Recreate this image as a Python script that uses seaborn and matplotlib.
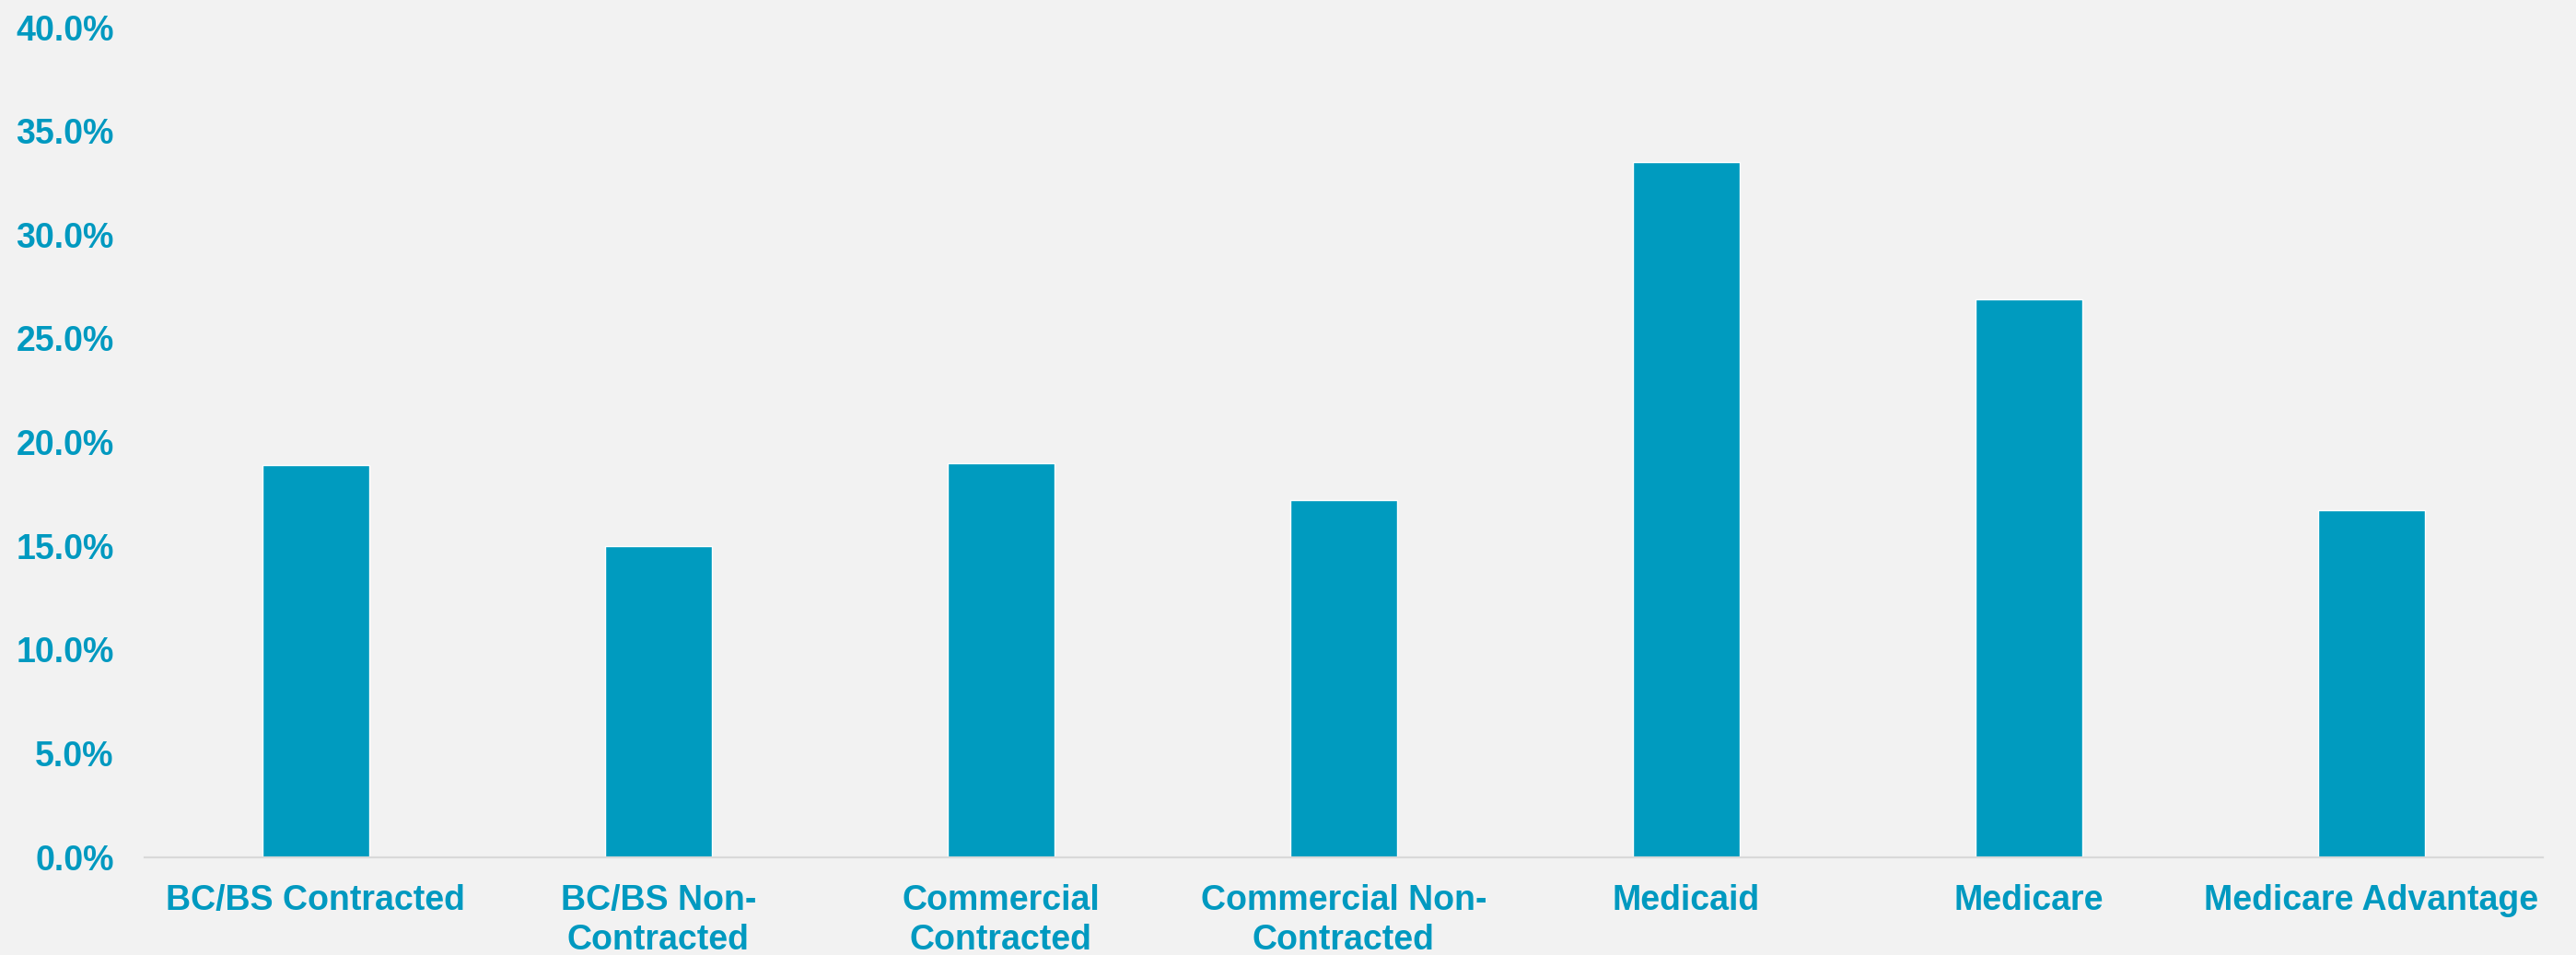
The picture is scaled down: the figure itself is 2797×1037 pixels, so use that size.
import matplotlib
matplotlib.use("Agg")
import matplotlib.pyplot as plt
import seaborn as sns
import pandas as pd
from matplotlib.ticker import PercentFormatter, MultipleLocator

categories = ["BC/BS Contracted", "BC/BS Non-\nContracted", "Commercial\nContracted",
              "Commercial Non-\nContracted", "Medicaid", "Medicare", "Medicare Advantage"]
values = [18.9, 15.0, 19.0, 17.2, 33.5, 26.9, 16.7]

BAR = "#009BBF"
TXT = "#0099C0"
BG = "#F2F2F2"

sns.set_theme(style="white")
plt.rcParams['font.family'] = ['Liberation Sans', 'DejaVu Sans']

df = pd.DataFrame({"cat": categories, "val": values})

fig = plt.figure(figsize=(27.97, 10.37), dpi=100, facecolor=BG)
ax = fig.add_axes([0.0561, 0.1027, 0.931, 0.8687])
ax.set_facecolor(BG)

sns.barplot(data=df, x="cat", y="val", color=BAR, saturation=1, width=0.314, ax=ax)

ax.set_ylim(0, 40)
ax.yaxis.set_major_locator(MultipleLocator(5))
ax.yaxis.set_major_formatter(PercentFormatter(decimals=1))
ax.set_xlabel("")
ax.set_ylabel("")

for s in ["top", "right", "left"]:
    ax.spines[s].set_visible(False)
ax.spines["bottom"].set_color("#D9D9D9")
ax.spines["bottom"].set_linewidth(1.6)

ax.tick_params(axis="y", length=0, pad=24, labelsize=27, labelcolor=TXT)
ax.tick_params(axis="x", length=0, pad=21, labelsize=27, labelcolor=TXT)
for lab in ax.get_xticklabels() + ax.get_yticklabels():
    lab.set_fontweight("bold")
for lab in ax.get_xticklabels():
    lab.set_linespacing(1.25)

fig.savefig("out.png", dpi=100, facecolor=BG)
